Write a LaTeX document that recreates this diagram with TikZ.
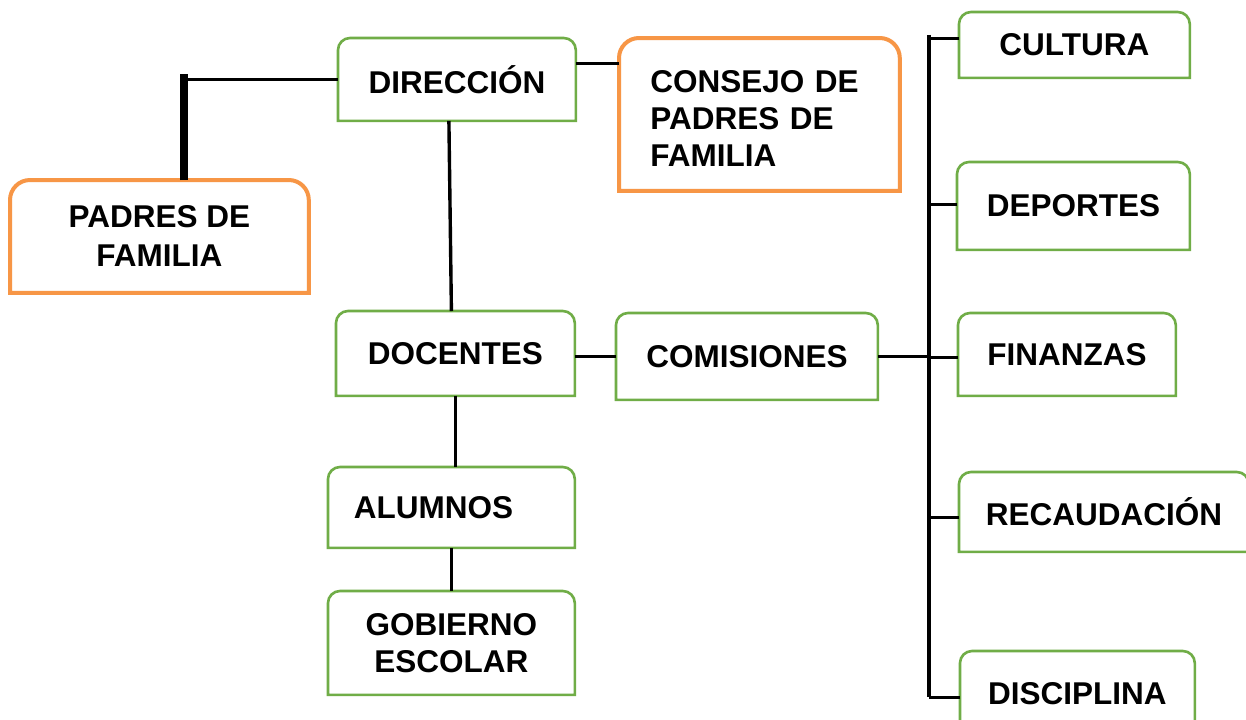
\documentclass[tikz,border=0pt]{standalone}
\usepackage{fontspec}
\setmainfont{Liberation Sans}
\definecolor{verde}{HTML}{70AD47}
\definecolor{naranja}{HTML}{F79646}

\begin{document}
\begin{tikzpicture}[
        x=0.5pt, y=-0.5pt,
        linea/.style={line width=1.7pt},
        gruesa/.style={line width=4pt},
        boxsize/.style 2 args={minimum width=#1*0.5pt, minimum height=#2*0.5pt}]

        \tikzstyle{every node}=[font=\fontsize{15.75}{18.5}\selectfont\bfseries, anchor=north west, inner sep=0pt, align=center]

        \clip (0,0) rectangle (1246,719);
        \fill[white] (0,0) rectangle (1246,719);

        \node[boxsize={298}{112}, font=\fontsize{15.75}{19.5}\selectfont\bfseries] (pad) at (10,180) {PADRES DE\\FAMILIA};
        \node[boxsize={237}{82}] (dir) at (338,38) {DIRECCIÓN};
        \node[boxsize={280}{152}, text width=109pt, align=left] (con) at (619,38) {\rule{0pt}{15pt}CONSEJO DE\\PADRES DE\\FAMILIA};
        \node[boxsize={238}{84}] (doc) at (336,311) {DOCENTES};
        \node[boxsize={261}{86}] (com) at (616,313) {COMISIONES};
        \node[boxsize={246}{80}] (alu) at (328,467) {ALUMNOS\hspace*{18pt}};
        \node[boxsize={246}{103}] (gob) at (328,591) {GOBIERNO\\ESCOLAR};
        \node[boxsize={230}{65}] (cul) at (959,12) {CULTURA};
        \node[boxsize={232}{87}] (dep) at (957,162) {DEPORTES};
        \node[boxsize={217}{82}] (fin) at (958,313) {FINANZAS};
        \node[boxsize={289}{79}] (rec) at (959,472) {RECAUDACIÓN};
        \node[boxsize={234}{84}] (dis) at (960,651) {DISCIPLINA};

        \foreach \n in {dir,doc,com,alu,gob,cul,dep,fin,rec,dis}
            \draw[verde, line width=1.3pt] (\n.south west) -- ([yshift=-6pt]\n.north west)
                arc[start angle=180, end angle=90, radius=6pt] -- ([xshift=-6pt]\n.north east)
                arc[start angle=90, end angle=0, radius=6pt] -- (\n.south east) -- cycle;
        \foreach \n in {pad,con}
            \draw[naranja, line width=2pt] (\n.south west) -- ([yshift=-10pt]\n.north west)
                arc[start angle=180, end angle=90, radius=10pt] -- ([xshift=-10pt]\n.north east)
                arc[start angle=90, end angle=0, radius=10pt] -- (\n.south east) -- cycle;

        \coordinate (codo) at ([xshift=12.5pt]pad.north);
        \draw[linea] (dir.west) -| (codo);
        \draw[gruesa] (codo) -- ++(0,-106);
        \coordinate (d1) at ([yshift=8pt]dir.east);
        \draw[linea] (d1) -- (d1 -| con.west);
        \draw[linea] ([xshift=-4pt]dir.south) -- ([xshift=-2pt]doc.north);
        \draw[linea] (com.west) -- (com.west -| doc.east);
        \draw[linea] (doc.south) -- (doc.south |- alu.north);
        \draw[linea] (alu.south) -- (gob.north);

        \coordinate (bus) at (929,0);
        \draw[linea] (com.east) -- (com.east -| bus);
        \coordinate (arriba) at ([yshift=5pt]cul.west);
        \coordinate (abajo) at ([yshift=-2pt]dis.west);
        \draw[linea] (arriba -| bus) -- (abajo -| bus);
        \foreach \n/\s in {cul/3.25, dep/0.75, fin/-1.5, rec/-2.75, dis/-2}{
            \coordinate (t) at ([yshift=\s pt]\n.west);
            \draw[linea] (t) -- (t -| bus);
        }
    \end{tikzpicture}
\end{document}
